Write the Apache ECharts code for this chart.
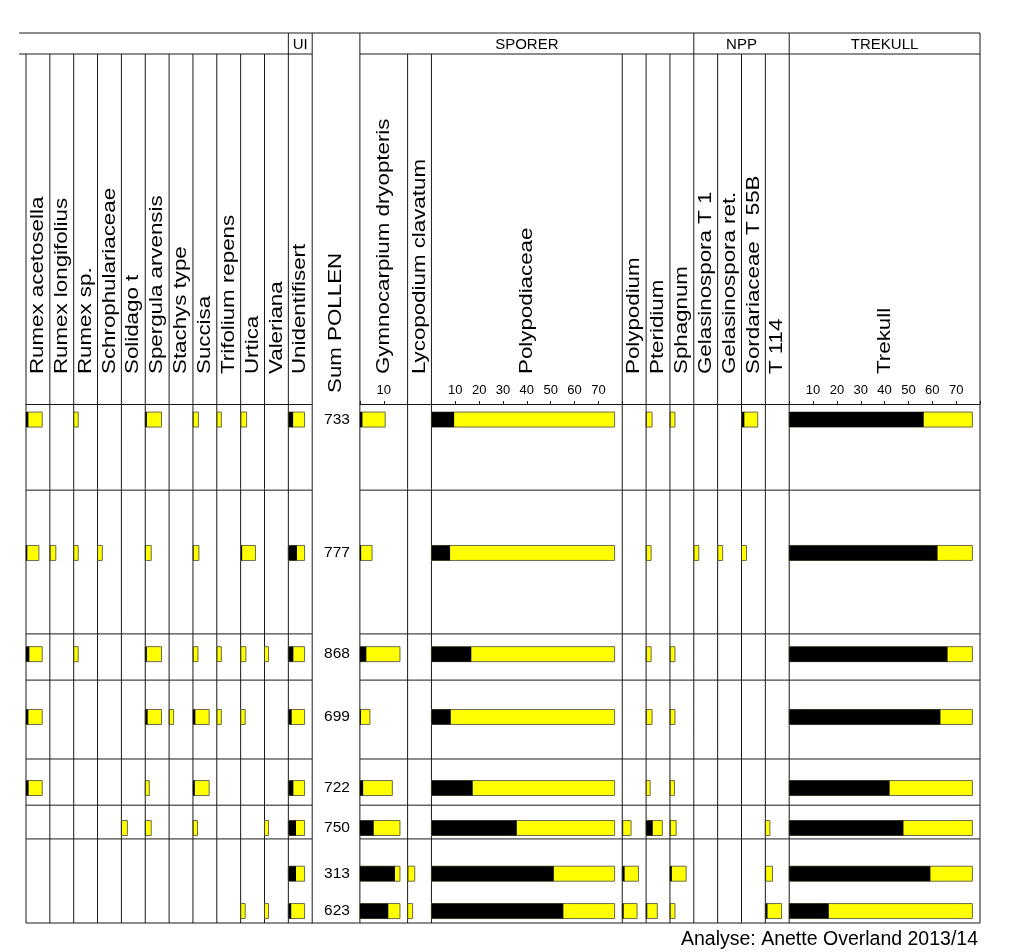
<!DOCTYPE html>
<html><head><meta charset="utf-8">
<script src="https://cdn.jsdelivr.net/npm/echarts/dist/echarts.min.js"></script>
<style>html,body{margin:0;padding:0;background:#fff}#c{width:1015px;height:952px}</style>
</head><body><div id="c"></div>
<script>
// ---------- DATA ----------
const sampleDepths = [3.0, 28.7, 48.2, 60.3, 74.0, 81.7, 90.5, 97.7];
const sumPollen    = [733, 777, 868, 699, 722, 750, 313, 623];
const zoneBounds   = [16.6, 44.3, 53.2, 68.4, 77.3, 83.8];

const rumexAcetosella   = [1.0, 0.54, 1.4, 1.0, 1.1, 0, 0, 0];
const rumexLongifolius  = [0, 0.25, 0, 0, 0, 0, 0, 0];
const rumexSp           = [0.19, 0.19, 0.19, 0, 0, 0, 0, 0];
const schrophulariaceae = [0, 0.2, 0, 0, 0, 0, 0, 0];
const solidago          = [0, 0, 0, 0, 0, 0.25, 0, 0];
const spergula          = [0.7, 0.25, 0.7, 1.0, 0.17, 0.25, 0, 0];
const stachys           = [0, 0, 0, 0.19, 0, 0, 0, 0];
const succisa           = [0.23, 0.25, 0.21, 1.0, 0.8, 0.19, 0, 0];
const trifolium         = [0.19, 0, 0.19, 0.19, 0, 0, 0, 0];
const urtica            = [0.25, 0.62, 0.22, 0.19, 0, 0, 0, 0.19];
const valeriana         = [0, 0, 0.17, 0, 0, 0.17, 0, 0.17];
const unidentifisert    = [2.0, 3.6, 2.1, 1.4, 2.1, 3.2, 3.2, 1.2];
const gymnocarpium      = [1.06, 0.51, 2.7, 0.42, 1.36, 5.8, 14.7, 11.9];
const lycopodium        = [0, 0, 0, 0, 0, 0, 0.3, 0.21];
const polypodiaceae     = [9.5, 7.8, 16.7, 8.1, 17.3, 35.8, 51.3, 55.3];
const polypodium        = [0, 0, 0, 0, 0, 0.37, 1.0, 0.62];
const pteridium         = [0.25, 0.21, 0.21, 0.25, 0.17, 2.8, 0, 0.47];
const sphagnum          = [0.21, 0, 0.21, 0.21, 0.19, 0.26, 0.8, 0.21];
const gelasinosporaT1   = [0, 0.21, 0, 0, 0, 0, 0, 0];
const gelasinosporaRet  = [0, 0.21, 0, 0, 0, 0, 0, 0];
const sordariaceae      = [1.2, 0.21, 0, 0, 0, 0, 0, 0];
const t114              = [0, 0, 0, 0, 0, 0.19, 0.3, 0.9];
const trekull           = [56.4, 62.2, 66.4, 63.4, 42.1, 47.9, 59.2, 16.6];

const EXAG = 10;
const groupLabels = ['UI', 'SPORER', 'NPP', 'TREKULL'];
const footerText = 'Analyse: Anette Overland 2013/14';

// ---------- LAYOUT ----------
const columns = [
  {name:'Rumex acetosella', v:rumexAcetosella, w:10},
  {name:'Rumex longifolius', v:rumexLongifolius, w:10},
  {name:'Rumex sp.', v:rumexSp, w:10},
  {name:'Schrophulariaceae', v:schrophulariaceae, w:10},
  {name:'Solidago t', v:solidago, w:10},
  {name:'Spergula arvensis', v:spergula, w:10},
  {name:'Stachys type', v:stachys, w:10},
  {name:'Succisa', v:succisa, w:10},
  {name:'Trifolium repens', v:trifolium, w:10},
  {name:'Urtica', v:urtica, w:10},
  {name:'Valeriana', v:valeriana, w:10},
  {name:'Unidentifisert', v:unidentifisert, w:10},
  {name:'Sum POLLEN', sum:true, w:20},
  {name:'Gymnocarpium dryopteris', v:gymnocarpium, w:20},
  {name:'Lycopodium clavatum', v:lycopodium, w:10},
  {name:'Polypodiaceae', v:polypodiaceae, w:80},
  {name:'Polypodium', v:polypodium, w:10},
  {name:'Pteridium', v:pteridium, w:10},
  {name:'Sphagnum', v:sphagnum, w:10},
  {name:'Gelasinospora T 1', v:gelasinosporaT1, w:10},
  {name:'Gelasinospora ret.', v:gelasinosporaRet, w:10},
  {name:'Sordariaceae T 55B', v:sordariaceae, w:10},
  {name:'T 114', v:t114, w:10},
  {name:'Trekull', v:trekull, w:80}
];
const X0 = 26, XR = 980, PX = (XR - X0) / 400;
const HDR_TOP = 33, HDR_BOT = 54, PLOT_TOP = 404, PLOT_BOT = 923;
const LABEL_BASE = 374, SUM_LABEL_BASE = 393;
const PAD = 3.2, BAR_H = 15;
const FONT = '"Liberation Sans", Arial, Helvetica, sans-serif';

let xcur = X0;
columns.forEach(c => { c.x = xcur; c.px = c.w * PX; xcur += c.px; });
const colEdge = i => (i < columns.length ? columns[i].x : XR);

const grids = [], xAxes = [], yAxes = [], series = [], graphics = [];
const LINE = {stroke:'#1a1a1a', lineWidth:1};
function line(x1,y1,x2,y2){ graphics.push({type:'line', shape:{x1,y1,x2,y2}, style:LINE, silent:true}); }

columns.forEach((c, i) => {
  grids.push({left:c.x, top:PLOT_TOP, width:c.px, height:PLOT_BOT-PLOT_TOP});
  const big = c.w > 10 && !c.sum;
  xAxes.push({
    type:'value', gridIndex:i, min:0, max:c.w, interval:10, position:'top',
    axisLine:{show:!c.sum, lineStyle:{color:'#1a1a1a', width:1}},
    axisTick:{show:big, length:3, lineStyle:{color:'#1a1a1a'}},
    axisLabel:{show:big, color:'#000', fontSize:13, fontFamily:FONT, margin:7,
      formatter: v => (v === 0 || v === c.w) ? '' : String(v)},
    splitLine:{show:false}
  });
  yAxes.push({type:'value', gridIndex:i, min:0, max:100, inverse:true, show:false});
  if (c.sum) {
    series.push({
      type:'custom', xAxisIndex:i, yAxisIndex:i, clip:false,
      data: sumPollen.map((s,k) => [c.w/2, sampleDepths[k], s]),
      renderItem: (p, api) => {
        const pt = api.coord([api.value(0), api.value(1)]);
        return {type:'text', x:pt[0]+1, y:pt[1],
          style:{text:String(api.value(2)), font:'15.5px '+FONT, fill:'#000', align:'center', verticalAlign:'middle'}};
      }
    });
  } else {
    const clipMax = c.w - PAD;
    series.push({
      type:'custom', xAxisIndex:i, yAxisIndex:i, clip:false,
      data: c.v.map((v,k) => [v, sampleDepths[k]]).filter(d => d[0] > 0),
      renderItem: (p, api) => {
        const v = api.value(0), d = api.value(1);
        const p0 = api.coord([0, d]);
        const pe = api.coord([Math.min(v*EXAG, clipMax), d]);
        const pv = api.coord([Math.min(v, clipMax), d]);
        return {type:'group', children:[
          {type:'rect', shape:{x:p0[0], y:p0[1]-BAR_H/2, width:pe[0]-p0[0], height:BAR_H},
            style:{fill:'#ffff00', stroke:'#6a6a4a', lineWidth:1}},
          {type:'rect', shape:{x:p0[0], y:p0[1]-BAR_H/2, width:pv[0]-p0[0], height:BAR_H},
            style:{fill:'#000'}}
        ]};
      }
    });
    series.push({
      type:'custom', xAxisIndex:i, yAxisIndex:i, clip:false, silent:true,
      data: zoneBounds.map(d => [0, d]),
      renderItem: (p, api) => {
        const a = api.coord([0, api.value(1)]), b = api.coord([c.w, api.value(1)]);
        return {type:'line', shape:{x1:a[0], y1:a[1], x2:b[0], y2:b[1]}, style:{stroke:'#1a1a1a', lineWidth:1}};
      }
    });
  }
  // column label
  graphics.push({type:'text', x:c.x + c.px/2, y:c.sum ? SUM_LABEL_BASE : LABEL_BASE,
    rotation:Math.PI/2, scaleX:1.2, silent:true,
    style:{text:c.name, font:'18.6px '+FONT, fill:'#000', align:'left', verticalAlign:'middle'}});
});

// frame lines
const sumIdx = columns.findIndex(c => c.sum);
const uiIdx = sumIdx - 1;
const sporerL = colEdge(sumIdx+1), nppL = colEdge(19), trekL = colEdge(23);
line(19, HDR_TOP, XR, HDR_TOP);
line(19, HDR_BOT, colEdge(sumIdx), HDR_BOT);
line(colEdge(sumIdx+1), HDR_BOT, XR, HDR_BOT);
line(X0, PLOT_BOT, XR, PLOT_BOT);
for (let i = 0; i <= columns.length; i++) {
  const x = colEdge(i);
  let yTop = HDR_BOT;
  if (i === uiIdx || i === sumIdx || i === sumIdx+1 || x === nppL || x === trekL || i === columns.length) yTop = HDR_TOP;
  line(x, yTop, x, PLOT_BOT);
}
// group labels
const grpBoxes = [[colEdge(uiIdx), colEdge(sumIdx)], [sporerL, nppL], [nppL, trekL], [trekL, XR]];
grpBoxes.forEach((b, k) => graphics.push({type:'text', x:(b[0]+b[1])/2, y:(HDR_TOP+HDR_BOT)/2+1, silent:true,
  style:{text:groupLabels[k], font:'15px '+FONT, fill:'#000', align:'center', verticalAlign:'middle'}}));
graphics.push({type:'text', x:978, y:940, silent:true,
  style:{text:footerText, font:'19.5px '+FONT, fill:'#000', align:'right', verticalAlign:'middle'}});

const chart = echarts.init(document.getElementById('c'), null, {renderer:'canvas'});
chart.setOption({
  animation:false, backgroundColor:'#fff',
  grid:grids, xAxis:xAxes, yAxis:yAxes, series:series,
  graphic:{elements:graphics}
});
</script></body></html>
